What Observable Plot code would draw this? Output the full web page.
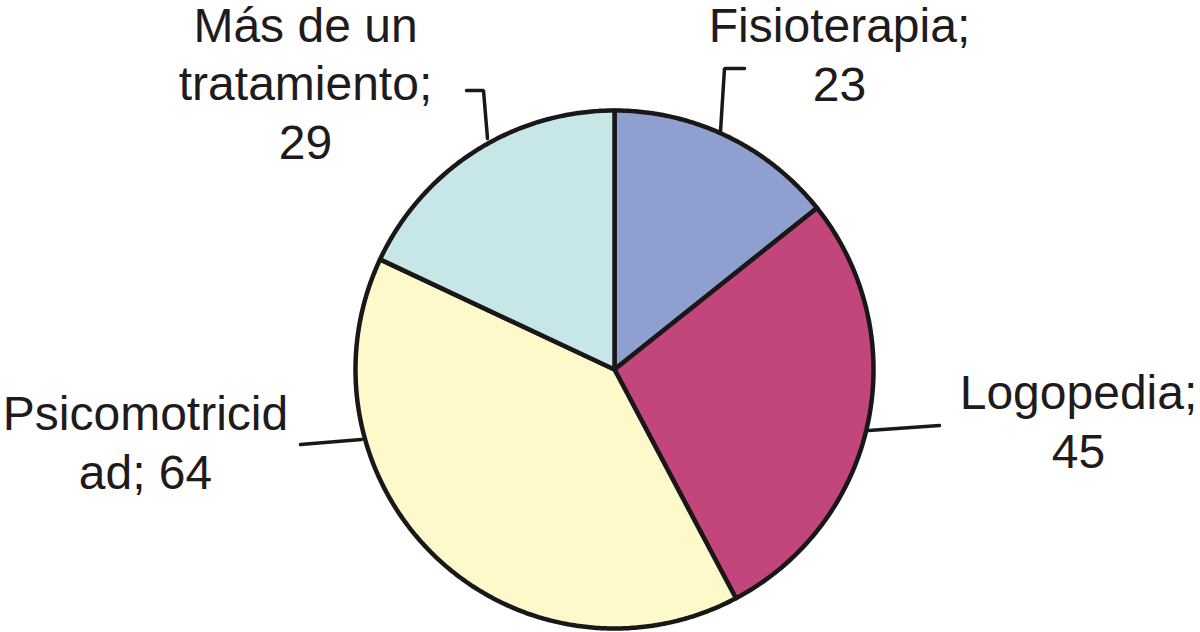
<!DOCTYPE html>
<html>
<head>
<meta charset="utf-8">
<script src="https://cdn.jsdelivr.net/npm/d3@7"></script>
<script src="https://cdn.jsdelivr.net/npm/@observablehq/plot@0.6"></script>
<style>
  html, body { margin: 0; padding: 0; background: #ffffff; }
  #chart svg { display: block; }
</style>
</head>
<body>
<div id="chart"></div>
<script>
// ---- data ----
const categories = ["Fisioterapia", "Logopedia", "Psicomotricidad", "Más de un tratamiento"];
const values = [23, 45, 64, 29];
const colors = ["#8f9fcf", "#c2457c", "#fdf9cb", "#c6e6e8"];
const labelText = [
  "Fisioterapia;\n23",
  "Logopedia;\n45",
  "Psicomotricid\nad; 64",
  "Más de un\ntratamiento;\n29"
];

// ---- layout (pixel space) ----
const W = 1200, H = 632;
const center = [614, 369];
const radius = 259;
const labelX = [839, 1078, 145, 305];
const labelBottom = [100, 467, 488, 158];
const leaders = [
  [[720, 131], [724, 68], [744, 68]],
  [[868, 430], [939, 425]],
  [[361, 439], [300, 444]],
  [[487, 138], [483, 90], [466, 90]]
];

// ---- build slice polygons from pie angles ----
const rows = categories.map((c, i) => ({category: c, value: values[i]}));
const arcs = d3.pie().sort(null).value(d => d.value)(rows);
const slicePts = [];
for (const a of arcs) {
  const cat = a.data.category;
  slicePts.push({category: cat, x: center[0], y: center[1]});
  const n = Math.max(2, Math.ceil((a.endAngle - a.startAngle) / (Math.PI / 360)));
  for (let k = 0; k <= n; k++) {
    const t = a.startAngle + (a.endAngle - a.startAngle) * k / n;
    slicePts.push({category: cat, x: center[0] + radius * Math.sin(t), y: center[1] - radius * Math.cos(t)});
  }
}

const labels = categories.map((c, i) => ({category: c, text: labelText[i], x: labelX[i], y: labelBottom[i]}));
const leaderPts = leaders.flatMap((pts, i) => pts.map(([x, y]) => ({id: categories[i], x, y})));

const chart = Plot.plot({
  width: W,
  height: H,
  margin: 0,
  x: {domain: [0, W], range: [0, W], axis: null},
  y: {domain: [0, H], range: [0, H], axis: null},
  color: {domain: categories, range: colors},
  style: {background: "#ffffff"},
  marks: [
    Plot.line(slicePts, {
      x: "x", y: "y", z: "category", fill: "category",
      stroke: "#1a1718", strokeWidth: 4.5, strokeLinejoin: "round",
      curve: "linear-closed"
    }),
    Plot.line(leaderPts, {
      x: "x", y: "y", z: "id",
      stroke: "#1a1718", strokeWidth: 3.5, strokeLinejoin: "miter"
    }),
    Plot.text(labels, {
      x: "x", y: "y", text: "text",
      textAnchor: "middle", lineAnchor: "bottom", lineHeight: 1.21,
      fontSize: 48, fontFamily: "'Liberation Sans', Arial, Helvetica, sans-serif",
      fill: "#1f1b1c"
    })
  ]
});

document.getElementById("chart").appendChild(chart);
</script>
</body>
</html>
